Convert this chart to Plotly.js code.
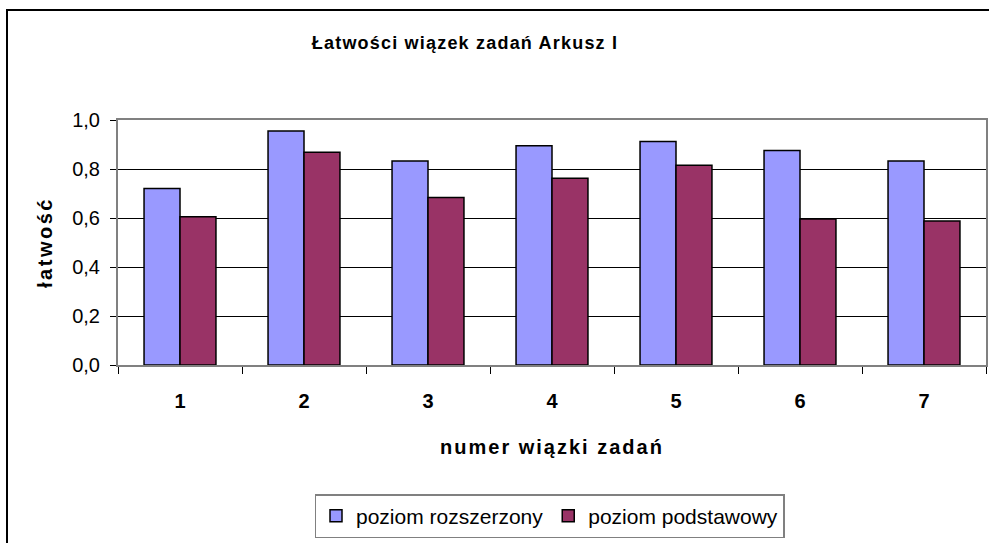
<!DOCTYPE html>
<html>
<head>
<meta charset="utf-8">
<script src="https://cdn.plot.ly/plotly-3.0.1.min.js"></script>
<style>
html,body{margin:0;padding:0;background:#fff;}
#chart{width:989px;height:543px;}
.gtitle{letter-spacing:1.2px;}
.xtitle{letter-spacing:2px;}
.ytitle{letter-spacing:2.5px;}
</style>
</head>
<body>
<div id="chart"></div>
<script>
const categories = ["1", "2", "3", "4", "5", "6", "7"];
const rozszerzony = [0.72, 0.955, 0.833, 0.895, 0.912, 0.876, 0.833];
const podstawowy = [0.605, 0.868, 0.684, 0.762, 0.815, 0.596, 0.588];
const seriesNames = ["poziom rozszerzony", "poziom podstawowy"];
const yTicks = [0, 0.2, 0.4, 0.6, 0.8, 1.0];

const FONT = "Liberation Sans, Arial, sans-serif";

const traces = [
  {
    type: "bar", x: categories, y: rozszerzony, name: seriesNames[0],
    marker: {color: "#9999FF", line: {color: "#000000", width: 1.5}}
  },
  {
    type: "bar", x: categories, y: podstawowy, name: seriesNames[1],
    marker: {color: "#993366", line: {color: "#000000", width: 1.5}}
  }
];

const L = 118, R = 986, T = 120, B = 365, W = 989, H = 543;
const px = v => (v - L) / (R - L);
const py = v => (B - v) / (B - T);

const layout = {
  width: W, height: H,
  margin: {l: L, r: W - R, t: T, b: H - B, pad: 0},
  paper_bgcolor: "#ffffff", plot_bgcolor: "#ffffff",
  separators: ", ",
  font: {family: FONT, size: 17, color: "#000000"},
  title: {
    text: "<b>Łatwości wiązek zadań Arkusz I</b>",
    font: {family: FONT, size: 18, color: "#000000"},
    x: 465 / W, xref: "container", xanchor: "center",
    y: 1 - 43 / H, yref: "container", yanchor: "middle"
  },
  barmode: "group",
  bargap: 0.42,
  bargroupgap: 0,
  showlegend: true,
  legend: {
    orientation: "h",
    x: px(549.5), xanchor: "center",
    y: py(494), yanchor: "top",
    bordercolor: "#808080", borderwidth: 1.5,
    bgcolor: "#ffffff",
    font: {family: FONT, size: 21, color: "#000000"},
    traceorder: "normal"
  },
  xaxis: {
    type: "category",
    tickson: "boundaries",
    ticks: "outside", ticklen: 7, tickcolor: "#000000", tickwidth: 1,
    ticklabelstandoff: 17,
    showline: true, linecolor: "#808080", linewidth: 2, mirror: true,
    showgrid: false,
    tickfont: {family: FONT, size: 20, color: "#000000", weight: "bold"},
    title: {text: "<b>numer wiązki zadań</b>", font: {family: FONT, size: 20, color: "#000000"}, standoff: 29},
    fixedrange: true
  },
  yaxis: {
    range: [0, 1.0],
    tickvals: yTicks,
    tickformat: ".1f",
    ticks: "outside", ticklen: 6, tickcolor: "#000000", tickwidth: 1,
    ticklabelstandoff: 6,
    showline: true, linecolor: "#808080", linewidth: 2, mirror: true,
    showgrid: true, gridcolor: "#000000", gridwidth: 1,
    zeroline: false,
    tickfont: {family: FONT, size: 20, color: "#000000"},
    title: {text: "<b>łatwość</b>", font: {family: FONT, size: 20, color: "#000000"}, standoff: 14},
    fixedrange: true
  },
  shapes: [
    {
      type: "rect", xref: "paper", yref: "paper",
      x0: px(7), x1: px(1010), y0: py(10), y1: py(570),
      line: {color: "#000000", width: 2}, fillcolor: "rgba(0,0,0,0)",
      layer: "below"
    }
  ]
};

Plotly.newPlot("chart", traces, layout, {displayModeBar: false, staticPlot: true});
</script>
</body>
</html>
